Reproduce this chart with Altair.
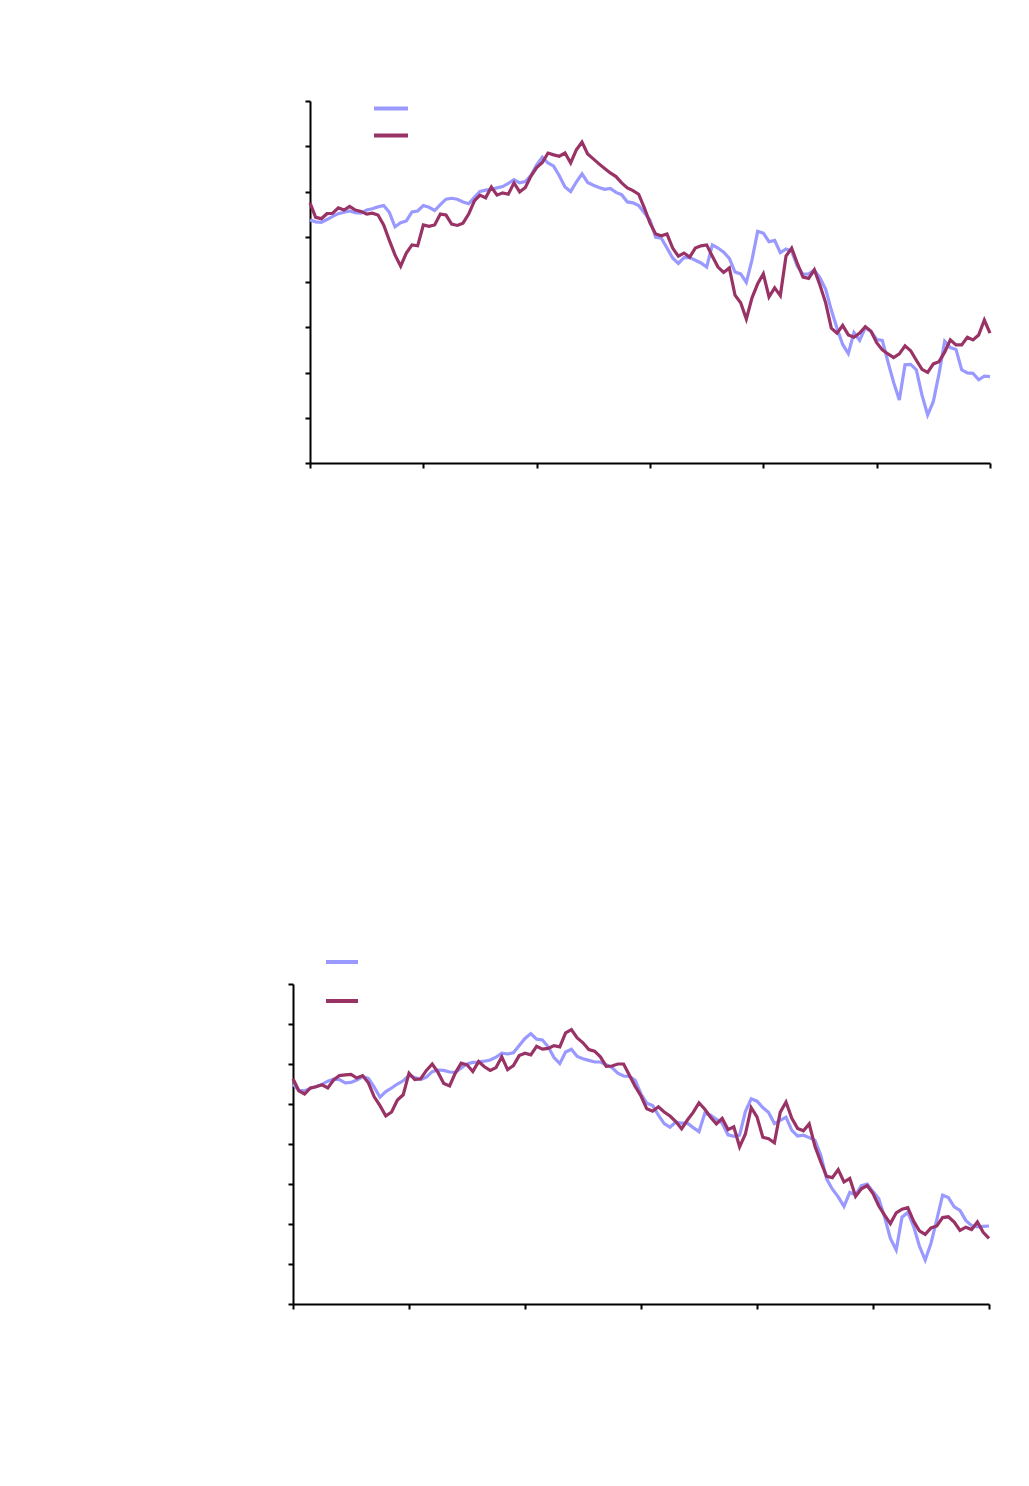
import altair as alt
import pandas as pd

# shared time index (weeks) and series names
x_index = list(range(121))
series_names = ["Series 1", "Series 2"]
series_colors = ["#9999FF", "#993366"]
x_ticks = [0, 20, 40, 60, 80, 100, 120]
y_ticks = [0, 10, 20, 30, 40, 50, 60, 70, 80]

top_blue = [53.7, 53.3, 53.2, 53.8, 54.5, 55.1, 55.4, 55.7, 55.3, 55.2,
            55.9, 56.2, 56.6, 56.9, 55.4, 52.2, 53.1, 53.5, 55.5, 55.7,
            56.9, 56.5, 55.8, 57.1, 58.3, 58.5, 58.3, 57.7, 57.3, 58.7,
            60.0, 60.3, 60.5, 60.8, 61.1, 61.8, 62.6, 61.9, 62.2, 63.6,
            65.9, 67.6, 66.3, 65.6, 63.5, 61.0, 60.0, 62.1, 63.9, 62.0,
            61.4, 60.9, 60.5, 60.7, 59.8, 59.3, 57.7, 57.5, 56.9, 55.3,
            53.7, 49.9, 49.7, 47.5, 45.3, 44.1, 45.4, 45.4, 44.8, 44.2,
            43.3, 48.2, 47.5, 46.6, 45.2, 42.2, 41.8, 39.9, 44.9, 51.2,
            50.8, 48.9, 49.2, 46.5, 47.3, 46.8, 43.5, 41.7, 41.8, 42.6,
            40.9, 38.4, 33.8, 29.8, 26.2, 24.2, 28.8, 27.1, 29.9, 29.1,
            27.3, 27.1, 22.3, 17.8, 13.9, 21.7, 21.8, 20.6, 15.0, 10.6,
            13.6, 19.7, 26.9, 25.5, 25.1, 20.6, 19.9, 19.8, 18.4, 19.2,
            19.1]

top_maroon = [57.5, 54.3, 54.0, 55.1, 55.2, 56.4, 55.9, 56.7, 55.9, 55.6,
              55.0, 55.2, 54.8, 52.6, 49.2, 46.0, 43.5, 46.4, 48.2, 48.0,
              52.6, 52.3, 52.6, 55.0, 54.8, 52.8, 52.5, 53.0, 55.0, 57.9,
              59.2, 58.6, 61.0, 59.2, 59.7, 59.4, 61.9, 59.9, 60.9, 63.4,
              65.3, 66.4, 68.5, 68.1, 67.8, 68.5, 66.3, 69.2, 70.9, 68.3,
              67.2, 66.1, 65.1, 64.1, 63.3, 61.9, 60.8, 60.2, 59.4, 56.4,
              53.0, 50.6, 50.2, 50.6, 47.5, 45.7, 46.4, 45.5, 47.5, 48.0,
              48.2, 45.7, 43.3, 42.1, 43.1, 37.1, 35.4, 31.8, 36.5, 39.6,
              41.8, 36.7, 38.7, 37.0, 45.7, 47.5, 44.1, 41.1, 40.8, 42.7,
              39.3, 35.4, 29.8, 28.7, 30.4, 28.3, 27.8, 28.7, 30.1, 29.1,
              26.6, 25.0, 24.1, 23.3, 24.1, 25.9, 24.8, 22.7, 20.7, 20.0,
              21.9, 22.4, 24.5, 27.2, 26.1, 26.1, 27.8, 27.2, 28.3, 31.6,
              28.7]

bottom_blue = [55.0, 53.4, 53.3, 53.9, 54.4, 54.9, 55.7, 56.2, 56.1, 55.3,
               55.4, 56.0, 56.8, 56.4, 54.2, 51.7, 53.1, 54.0, 55.0, 55.8,
               57.1, 56.6, 56.1, 56.7, 58.1, 58.5, 58.4, 58.0, 57.9, 59.0,
               60.0, 60.4, 60.5, 60.7, 61.0, 61.7, 62.7, 62.5, 62.8, 64.6,
               66.4, 67.6, 66.2, 66.0, 64.3, 61.6, 60.1, 63.0, 63.7, 61.9,
               61.3, 60.9, 60.5, 60.5, 59.8, 59.1, 57.7, 57.0, 56.9, 55.9,
               52.5, 50.2, 49.6, 47.2, 45.1, 44.2, 45.5, 45.2, 45.2, 44.1,
               43.1, 47.7, 47.2, 46.2, 45.2, 42.3, 41.9, 42.2, 48.1, 51.3,
               50.7, 49.1, 47.9, 45.1, 45.9, 46.7, 43.4, 42.0, 42.2, 41.6,
               40.9, 37.2, 31.3, 28.7, 26.8, 24.4, 27.9, 27.3, 29.6, 30.0,
               28.1, 26.3, 21.7, 16.4, 13.5, 21.7, 22.9, 19.4, 14.5, 11.0,
               15.2, 21.1, 27.2, 26.6, 24.3, 23.4, 20.9, 19.6, 19.3, 19.4,
               19.5]

bottom_maroon = [56.3, 53.3, 52.5, 54.0, 54.3, 54.8, 54.0, 56.0, 57.1, 57.3,
                 57.4, 56.5, 57.1, 55.3, 51.8, 49.6, 47.0, 48.0, 51.0, 52.3,
                 57.7, 56.1, 56.3, 58.4, 60.0, 57.9, 55.1, 54.5, 57.8, 60.2,
                 59.8, 58.1, 60.6, 59.3, 58.4, 59.1, 61.8, 58.6, 59.6, 62.1,
                 62.7, 62.3, 64.4, 63.7, 63.9, 64.6, 64.3, 67.8, 68.6, 66.5,
                 65.3, 63.6, 63.2, 61.8, 59.4, 59.5, 60.0, 60.0, 57.2, 54.4,
                 52.0, 48.8, 48.2, 49.3, 48.0, 47.0, 45.6, 43.8, 46.0, 47.9,
                 50.3, 48.7, 46.7, 45.0, 46.4, 43.6, 44.3, 39.3, 42.5, 49.1,
                 46.8, 41.7, 41.3, 40.3, 47.9, 50.5, 46.4, 43.9, 43.3, 45.0,
                 39.4, 35.5, 31.9, 31.6, 33.6, 30.5, 31.4, 26.9, 28.8, 29.6,
                 27.6, 24.5, 22.2, 20.1, 22.8, 23.7, 24.1, 20.7, 18.3, 17.4,
                 19.0, 19.5, 21.6, 21.8, 20.5, 18.4, 19.2, 18.6, 20.5, 17.9,
                 16.4]


def to_long(blue, maroon):
    rows = []
    for k, (name, vals) in enumerate(zip(series_names, [blue, maroon])):
        for t, v in zip(x_index, vals):
            rows.append({"t": t, "value": v, "series": name, "k": k})
    return pd.DataFrame(rows)


axis_style = dict(labels=False, title=None, grid=False, domainColor="black",
                  domainWidth=2, tickColor="black", tickWidth=2, tickSize=5)


def panel(df, w, h, lx, ly, rowpad, symsize):
    return alt.Chart(df).mark_line(strokeWidth=3.2).encode(
        x=alt.X("t:Q", scale=alt.Scale(domain=[0, 120], nice=False, zero=False),
                axis=alt.Axis(values=x_ticks, **axis_style)),
        y=alt.Y("value:Q", scale=alt.Scale(domain=[0, 80], nice=False),
                axis=alt.Axis(values=y_ticks, **axis_style)),
        color=alt.Color("series:N",
                        scale=alt.Scale(domain=series_names, range=series_colors),
                        legend=alt.Legend(orient="none", legendX=lx, legendY=ly,
                                          title=None, symbolType="stroke",
                                          symbolSize=symsize, symbolStrokeWidth=4,
                                          labelExpr="''", padding=0,
                                          rowPadding=rowpad)),
        detail="k:O",
    ).properties(width=w, height=h)


top = panel(to_long(top_blue, top_maroon), 680, 362, 79, -11.5, -3, 1156)
bottom = panel(to_long(bottom_blue, bottom_maroon), 696, 320, 31, -40, 13, 1024)

spacer = alt.Chart(pd.DataFrame({"a": [0]})).mark_point(opacity=0).encode(
    x=alt.value(0), y=alt.value(0)
).properties(width=10, height=362)

top_row = alt.hconcat(spacer, top, spacing=0)

chart = alt.vconcat(top_row, bottom, spacing=475).resolve_scale(
    color="independent"
).resolve_legend(color="independent").properties(
    padding={"left": 278, "top": 81, "right": 5, "bottom": 5}
).configure_view(strokeWidth=0)

chart.save("out.html", embed_options={"renderer": "svg", "actions": False})
